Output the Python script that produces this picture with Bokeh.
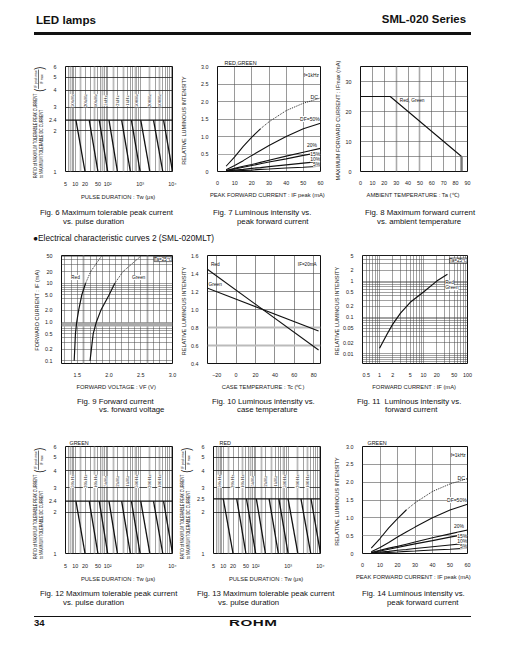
import math
from bokeh.plotting import figure
from bokeh.models import FixedTicker, Grid, Label, LabelSet, ColumnDataSource, Span, Div
from bokeh.layouts import column, row
from bokeh.embed import file_html
from bokeh.resources import INLINE

FONT = "Liberation Sans"
INK = "#111111"

# ---------------- data ----------------
# Fig 6 / 12 / 13 : maximum tolerable peak current vs pulse duration
pulse_freqs = ["50kHz", "20kHz", "10kHz", "5kHz", "2kHz", "1kHz", "500Hz", "200Hz", "100Hz"]
pulse_x_ticks = [5, 10, 20, 50, 100, 1000, 10000]
pulse_x_labels = ["5", "10", "20", "50", "10²", "10³", "10⁴"]
fig6_y_ticks = [1, 2, 2.4, 3, 4, 5, 6]
fig6_y_labels = ["1", "2", "2.4", "3", "4", "5", "6"]
fig6_ratio_limit = 2.4
fig6_tw_top = [10.5, 27, 55, 110, 270, 540, 1050, 2600, 5300]
fig6_tw_bottom = [20, 50, 100, 200, 500, 1000, 2000, 5000, 10000]
fig12_ratio_limit = 2.4
fig12_tw_top = [10.5, 27, 55, 110, 270, 540, 1050, 2600, 5300]
fig12_tw_bottom = [20, 50, 100, 200, 500, 1000, 2000, 5000, 10000]
fig13_y_ticks = [1, 2, 2.5, 3, 4, 5, 6]
fig13_y_labels = ["1", "2", "2.5", "3", "4", "5", "6"]
fig13_ratio_limit = 2.5
fig13_tw_top = [10, 26, 52, 105, 260, 520, 1000, 2500, 5100]
fig13_tw_bottom = [20, 50, 100, 200, 500, 1000, 2000, 5000, 10000]

# Fig 7 / 14 : relative luminous intensity vs peak forward current (f = 1 kHz)
lum_if_peak = [5, 10, 15, 20, 25, 30, 40, 50, 60]
fig7_dc = [0.15, 0.42, 0.72, 0.98, 1.22, 1.42, 1.74, 1.95, 2.10]
fig7_df50 = [0.05, 0.17, 0.31, 0.46, 0.60, 0.74, 1.00, 1.22, 1.38]
fig7_df20 = [0.03, 0.09, 0.15, 0.20, 0.26, 0.32, 0.44, 0.55, 0.66]
fig7_df15 = [0.02, 0.07, 0.12, 0.17, 0.22, 0.27, 0.36, 0.46, 0.55]
fig7_df10 = [0.01, 0.04, 0.06, 0.09, 0.11, 0.14, 0.19, 0.24, 0.29]
fig7_df5 = [0.00, 0.02, 0.03, 0.04, 0.06, 0.07, 0.10, 0.12, 0.15]
fig14_dc = [0.15, 0.42, 0.72, 0.98, 1.22, 1.42, 1.74, 1.95, 2.10]
fig14_df50 = [0.05, 0.17, 0.31, 0.46, 0.60, 0.74, 1.00, 1.22, 1.38]
fig14_df20 = [0.03, 0.09, 0.15, 0.20, 0.26, 0.32, 0.44, 0.55, 0.66]
fig14_df15 = [0.02, 0.07, 0.12, 0.17, 0.22, 0.27, 0.36, 0.46, 0.55]
fig14_df10 = [0.01, 0.04, 0.06, 0.09, 0.11, 0.14, 0.19, 0.24, 0.29]
fig14_df5 = [0.00, 0.02, 0.03, 0.04, 0.06, 0.07, 0.10, 0.12, 0.15]
lum_x_ticks = [0, 10, 20, 30, 40, 50, 60]
lum_y_ticks = [0, 0.5, 1.0, 1.5, 2.0, 2.5, 3.0]
lum_y_labels = ["0", "0.5", "1.0", "1.5", "2.0", "2.5", "3.0"]

# Fig 8 : maximum forward current vs ambient temperature
fig8_temp = [0, 25, 85]
fig8_imax = [25, 25, 5]
fig8_cut_temp = [85, 85]
fig8_cut_imax = [5, 0]

# Fig 9 : forward current vs forward voltage
fig9_if = [0.1, 0.5, 1.0, 2.0, 5.0, 10, 20, 50]
fig9_red_vf = [1.45, 1.47, 1.49, 1.52, 1.57, 1.63, 1.71, 1.88]
fig9_green_vf = [1.70, 1.75, 1.80, 1.87, 2.00, 2.09, 2.22, 2.50]
fig9_y_ticks = [0.1, 0.2, 0.5, 1.0, 2.0, 5.0, 10, 20, 50]
fig9_y_labels = ["0.1", "0.2", "0.5", "1.0", "2.0", "5.0", "10", "20", "50"]
fig9_x_ticks = [1.5, 2.0, 2.5, 3.0]
fig9_x_labels = ["1.5", "2.0", "2.5", "3.0"]

# Fig 10 : luminous intensity vs case temperature (IF = 20 mA)
fig10_tc = [-30, 85]
fig10_red = [1.45, 0.55]
fig10_green = [1.24, 0.76]
fig10_x_ticks = [-20, 0, 20, 40, 60, 80]
fig10_x_labels = ["−20", "0", "20", "40", "60", "80"]
fig10_y_ticks = [0.4, 0.6, 0.8, 1.0, 1.2, 1.4, 1.6]
fig10_y_labels = ["0.4", "0.6", "0.8", "1.0", "1.2", "1.4", "1.6"]

# Fig 11 : luminous intensity vs forward current
fig11_if = [1, 1.5, 2, 3, 5, 10, 20, 35]
fig11_rel = [0.014, 0.035, 0.065, 0.13, 0.26, 0.5, 1.0, 1.55]
fig11_x_ticks = [0.5, 1, 2, 5, 10, 20, 50, 100]
fig11_x_labels = ["0.5", "1", "2", "5", "10", "20", "50", "100"]
fig11_y_ticks = [0.01, 0.02, 0.05, 0.1, 0.2, 0.5, 1, 2, 5]
fig11_y_labels = ["0.01", "0.02", "0.05", "0.1", "0.2", "0.5", "1", "2", "5"]

# ---------------- layout geometry (page pixels) ----------------
ROW = [dict(h=158, bt=22, bb=24), dict(h=144, bt=7, bb=24), dict(h=168, bt=30, bb=25)]
FF = "font-family:'Liberation Sans',Arial,sans-serif;color:#111;"


def make(w, bl, br, ri, xr, yr, xtype="linear", ytype="linear", ylab_standoff=4, title=None, title_offset=0):
    r = ROW[ri]
    kw = {}
    if title:
        kw["title"] = title
    p = figure(width=w, height=r["h"], x_range=xr, y_range=yr,
               x_axis_type=xtype, y_axis_type=ytype, output_backend="svg",
               toolbar_location=None, tools="",
               min_border_left=bl, min_border_right=br,
               min_border_top=r["bt"], min_border_bottom=r["bb"], **kw)
    p.outline_line_color = INK
    p.outline_line_width = 1
    p.xgrid.visible = False
    p.ygrid.visible = False
    if title:
        p.title.text_font = FONT
        p.title.text_font_size = "5.4px"
        p.title.text_font_style = "normal"
        p.title.text_color = INK
        p.title.align = "left"
        p.title.offset = title_offset
        p.title.standoff = 1
    for ax in (p.xaxis[0], p.yaxis[0]):
        ax.axis_line_color = None
        ax.major_tick_line_color = None
        ax.minor_tick_line_color = None
        ax.major_label_text_font = FONT
        ax.major_label_text_font_size = "5.4px"
        ax.major_label_text_color = "#222222"
        ax.major_label_standoff = 3
        ax.axis_label_text_font = FONT
        ax.axis_label_text_font_style = "normal"
        ax.axis_label_text_color = "#222222"
        ax.axis_label_standoff = 4
    p.xaxis[0].axis_label_text_font_size = "5.8px"
    p.yaxis[0].axis_label_text_font_size = "5.6px"
    p.yaxis[0].axis_label_standoff = int(ylab_standoff)
    return p


def ticks(axis, vals, labels):
    axis.ticker = FixedTicker(ticks=vals)
    axis.major_label_overrides = {v: l for v, l in zip(vals, labels)}


def grid(p, dim, vals, color="#555555", width=0.6):
    p.add_layout(Grid(dimension=dim, ticker=FixedTicker(ticks=vals),
                      grid_line_color=color, grid_line_width=width))


def dlabel(p, x, y, text, size=5.0, align="left", baseline="middle", box=False, bg=False):
    kw = {}
    if box:
        kw = dict(border_line_color=INK, border_line_width=0.6, background_fill_color="white")
    elif bg:
        kw = dict(background_fill_color="white")
    p.add_layout(Label(x=x, y=y, text=text, text_font=FONT, text_font_size=f"{size}px",
                       text_align=align, text_baseline=baseline, text_color=INK, **kw))


def log_grid_vals(lo_exp, hi_exp, start, stop):
    out = []
    for e in range(lo_exp, hi_exp + 1):
        for m in range(1, 10):
            v = m * 10 ** e
            if start - 1e-12 <= v <= stop + 1e-12:
                out.append(round(v, 6))
    return out


def ratio_title_div(width, height, left, top):
    html = (
        f'<div style="position:relative;width:{width}px;height:{height}px;{FF}">'
        f'<div style="position:absolute;left:{left}px;top:{top}px;display:flex;align-items:center;'
        'white-space:nowrap;font-size:8px;transform-origin:0 0;transform:rotate(-90deg) scale(0.45,0.6);">'
        '<div style="line-height:10px;"><div>RATIO of MAXIMUM TOLERABLE PEAK CURRENT</div>'
        '<div>to MAXIMUM TOLERABLE DC CURRENT</div></div>'
        '<div style="font-size:20px;line-height:20px;margin-left:4px;">(</div>'
        '<div style="font-size:7px;text-align:center;">'
        '<div style="line-height:9px;border-bottom:1px solid #111;padding:0 2px;">IF peak max</div>'
        '<div style="line-height:10px;">IF max</div></div>'
        '<div style="font-size:20px;line-height:20px;">)</div>'
        '</div></div>')
    return Div(text=html, width=width, height=height, margin=(0, 0, 0, 0))


def pulse_chart(w, bl, br, ri, y_ticks, y_labels, limit, tw_top, tw_bottom, title=None, title_offset=0):
    p = make(w, bl, br, ri, (5, 10000), (1, 6), xtype="log", ytype="log",
             title=title, title_offset=title_offset)
    ticks(p.xaxis[0], pulse_x_ticks, pulse_x_labels)
    ticks(p.yaxis[0], y_ticks, y_labels)
    p.xaxis[0].axis_label = "PULSE  DURATION : Tw (μs)"
    grid(p, 0, log_grid_vals(0, 4, 5, 10000), "#444444", 0.5)
    grid(p, 0, [7, 15, 40, 70, 150, 300, 700, 2000, 4000], "#bbbbbb", 1.8)
    grid(p, 1, [2, 3, 4, 5], "#222222", 0.8)
    p.add_layout(Span(location=limit, dimension="width", line_color=INK, line_width=1.3))
    n = len(tw_top)
    p.segment(x0=tw_top, y0=[limit] * n, x1=tw_bottom, y1=[1] * n, line_color=INK, line_width=1.3)
    src = ColumnDataSource(dict(x=[t * 0.76 for t in tw_top], y=[3.35] * n, text=pulse_freqs))
    p.add_layout(LabelSet(x="x", y="y", text="text", source=src, angle=math.pi / 2,
                          text_font=FONT, text_font_size="5px", text_align="center",
                          text_baseline="middle", text_color=INK,
                          background_fill_color="white"))
    return p


def lum_chart(w, bl, br, ri, dc, df50, df20, df15, df10, df5, title, title_offset, ystand):
    p = make(w, bl, br, ri, (0, 60), (0, 3.0), ylab_standoff=ystand, title=title, title_offset=title_offset)
    ticks(p.xaxis[0], lum_x_ticks, [str(v) for v in lum_x_ticks])
    ticks(p.yaxis[0], lum_y_ticks, lum_y_labels)
    p.xaxis[0].axis_label = "PEAK  FORWARD  CURRENT : IF peak (mA)"
    p.yaxis[0].axis_label = "RELATIVE  LUMINOUS  INTENSITY"
    grid(p, 0, [10, 20, 30, 40, 50], "#555555", 0.6)
    grid(p, 1, [1.0, 1.5, 2.0, 2.5], "#555555", 0.6)
    grid(p, 1, [0.5], "#aaaaaa", 1.2)
    p.line(lum_if_peak[:5], dc[:5], line_color=INK, line_width=1.1)
    p.line(lum_if_peak[4:], dc[4:], line_color=INK, line_width=0.9, line_dash="1 1")
    for ys in (df50, df20, df15, df10, df5):
        p.line(lum_if_peak, ys, line_color=INK, line_width=1.1)
    dlabel(p, 59, 2.75, "f=1kHz", 4.8, align="right")
    dlabel(p, 58.5, 2.13, "DC", 5.2, align="right")
    dlabel(p, 59.5, 1.5, "DF=50%", 5.0, align="right", bg=True)
    dlabel(p, 58, 0.77, "20%", 5.0, align="right")
    dlabel(p, 59.8, 0.5, "15%", 5.0, align="right", bg=True)
    dlabel(p, 59.8, 0.35, "10%", 5.0, align="right", bg=True)
    dlabel(p, 59.8, 0.22, "5%", 5.0, align="right", bg=True)
    return p


def text_div(height, items, extra=""):
    parts = [f'<div style="position:relative;width:505px;height:{height}px;{FF}">']
    for x, top, txt, size in items:
        lh = round(size * 1.16, 1)
        parts.append(f'<div style="position:absolute;left:{x}px;top:{top}px;font-size:{size}px;'
                     f'line-height:{lh}px;white-space:nowrap;">{txt}</div>')
    parts.append(extra)
    parts.append('</div>')
    return Div(text="".join(parts), width=505, height=height, margin=(0, 0, 0, 0))


# ---------------- row 1 ----------------
d6 = ratio_title_div(46, ROW[0]["h"], 33, 134)
f6 = pulse_chart(132, 15, 6, 0, fig6_y_ticks, fig6_y_labels, fig6_ratio_limit, fig6_tw_top, fig6_tw_bottom)
f7 = lum_chart(153, 28, 11, 0, fig7_dc, fig7_df50, fig7_df20, fig7_df15, fig7_df10, fig7_df5,
               "RED,GREEN", 7, 11)

f8 = make(174, 22, 38, 0, (0, 90), (0, 35), ylab_standoff=2)
ticks(f8.xaxis[0], list(range(0, 100, 10)), [str(v) for v in range(0, 100, 10)])
ticks(f8.yaxis[0], [0, 10, 20, 30], ["0", "10", "20", "30"])
f8.xaxis[0].axis_label = "AMBIENT  TEMPERATURE : Ta (℃)"
f8.yaxis[0].axis_label = "MAXIMUM  FORWARD  CURRENT : IFmax (mA)"
grid(f8, 0, [10, 20, 40, 60, 70, 80], "#555555", 0.6)
grid(f8, 0, [30, 50], "#aaaaaa", 1.6)
grid(f8, 1, [5, 10, 15, 20, 25, 30], "#555555", 0.6)
f8.line(fig8_temp, fig8_imax, line_color=INK, line_width=1.1)
f8.line(fig8_cut_temp, fig8_cut_imax, line_color="#777777", line_width=2.4)
dlabel(f8, 33, 23.6, "Red, Green", 4.8)

# ---------------- row 2 ----------------
f9 = make(178, 61, 6, 1, (1.25, 3.0), (0.085, 52), ytype="log", ylab_standoff=2)
ticks(f9.xaxis[0], fig9_x_ticks, fig9_x_labels)
ticks(f9.yaxis[0], fig9_y_ticks, fig9_y_labels)
f9.xaxis[0].axis_label = "FORWARD  VOLTAGE : VF (V)"
f9.yaxis[0].axis_label = "FORWARD  CURRENT : IF (mA)"
grid(f9, 0, [round(1.3 + 0.1 * i, 2) for i in range(17)], "#444444", 0.5)
grid(f9, 0, [1.6, 2.6], "#aaaaaa", 1.8)
grid(f9, 1, log_grid_vals(-1, 1, 0.1, 50), "#444444", 0.5)
grid(f9, 1, [0.8, 0.9], "#aaaaaa", 1.8)
f9.line(fig9_red_vf[:6], fig9_if[:6], line_color=INK, line_width=1.2)
f9.line(fig9_red_vf[5:], fig9_if[5:], line_color=INK, line_width=0.9, line_dash="1 1")
f9.line(fig9_green_vf[:6], fig9_if[:6], line_color=INK, line_width=1.2)
f9.line(fig9_green_vf[5:], fig9_if[5:], line_color=INK, line_width=0.9, line_dash="1 1")
dlabel(f9, 1.40, 14, "Red", 4.8, bg=True)
dlabel(f9, 2.36, 14, "Green", 4.8, bg=True)
dlabel(f9, 2.99, 42, "Ta=25℃", 4.6, align="right", box=True)

f10 = make(153, 28, 11, 1, (-29.5, 87), (0.4, 1.6), ylab_standoff=1)
ticks(f10.xaxis[0], fig10_x_ticks, fig10_x_labels)
ticks(f10.yaxis[0], fig10_y_ticks, fig10_y_labels)
f10.xaxis[0].axis_label = "CASE  TEMPERATURE : Tc (℃)"
f10.yaxis[0].axis_label = "RELATIVE  LUMINOUS  INTENSITY"
grid(f10, 0, [-20, 0, 20, 40, 60, 80], "#444444", 0.6)
grid(f10, 1, [1.0, 1.2, 1.4], "#444444", 0.6)
grid(f10, 1, [0.6, 0.8], "#bbbbbb", 2.0)
f10.line(fig10_tc, fig10_red, line_color=INK, line_width=1.1)
f10.line(fig10_tc, fig10_green, line_color=INK, line_width=1.1)
dlabel(f10, -26, 1.5, "Red", 4.8)
dlabel(f10, -28.5, 1.28, "Green", 4.8)
dlabel(f10, 83, 1.5, "IF=20mA", 4.6, align="right")

f11 = make(174, 22, 38, 1, (0.41, 100), (0.0053, 5.1), xtype="log", ytype="log", ylab_standoff=0)
ticks(f11.xaxis[0], fig11_x_ticks, fig11_x_labels)
ticks(f11.yaxis[0], fig11_y_ticks, fig11_y_labels)
f11.xaxis[0].axis_label = "FORWARD  CURRENT : IF (mA)"
f11.yaxis[0].axis_label = "RELATIVE  LUMINOUS  INTENSITY"
grid(f11, 0, log_grid_vals(-1, 2, 0.5, 100), "#444444", 0.5)
grid(f11, 1, log_grid_vals(-3, 0, 0.006, 5), "#444444", 0.5)
f11.line(fig11_if, fig11_rel, line_color=INK, line_width=1.2)
dlabel(f11, 31, 0.9, "Red", 4.8, bg=True)
dlabel(f11, 31, 0.66, "Green", 4.8, bg=True)
dlabel(f11, 98, 3.7, "Ta=25℃", 4.6, align="right", box=True)

# ---------------- row 3 ----------------
d12 = ratio_title_div(46, ROW[2]["h"], 33, 143)
f12 = pulse_chart(132, 15, 6, 2, fig6_y_ticks, fig6_y_labels, fig12_ratio_limit, fig12_tw_top, fig12_tw_bottom,
                  "GREEN", 4)
d13 = ratio_title_div(16, ROW[2]["h"], 2, 143)
f13 = pulse_chart(137, 12, 11, 2, fig13_y_ticks, fig13_y_labels, fig13_ratio_limit, fig13_tw_top, fig13_tw_bottom,
                  "RED", 6)
f14 = lum_chart(174, 22, 38, 2, fig14_dc, fig14_df50, fig14_df20, fig14_df15, fig14_df10, fig14_df5,
                "GREEN", 5, 3)

# ---------------- page text ----------------
header = Div(text=(
    f'<div style="position:relative;width:505px;height:44px;{FF}">'
    '<div style="position:absolute;left:36px;top:13px;font-size:11.6px;line-height:13px;font-weight:bold;white-space:nowrap;">LED lamps</div>'
    '<div style="position:absolute;right:39px;top:13px;font-size:11.4px;line-height:13px;font-weight:bold;white-space:nowrap;">SML-020 Series</div>'
    '<div style="position:absolute;left:34px;top:32px;width:437px;height:3px;background:#111;"></div>'
    '</div>'), width=505, height=44, margin=(0, 0, 0, 0))

CAP = 7.8
cap1 = text_div(46, [
    (40, 5.5, "Fig. 6 Maximum tolerable peak current", CAP), (63, 14.5, "vs. pulse duration", CAP),
    (213, 5.5, "Fig. 7 Luminous intensity vs.", CAP), (237, 14.5, "peak forward current", CAP),
    (365, 5.5, "Fig. 8 Maximum forward current", CAP), (377, 14.5, "vs. ambient temperature", CAP),
    (33, 32, "●Electrical characteristic curves 2 (SML-020MLT)", 8.3),
])
cap2 = text_div(24, [
    (77, 4.5, "Fig. 9 Forward current", CAP), (99, 13, "vs. forward voltage", CAP),
    (212, 4.5, "Fig. 10 Luminous intensity vs.", CAP), (237, 13, "case temperature", CAP),
    (357, 4.5, "Fig. 11&nbsp; Luminous intensity vs.", CAP), (385, 13, "forward current", CAP),
])
footer_html = (
    '<div style="position:absolute;left:34px;top:32px;width:437px;height:1.3px;background:#111;"></div>'
    '<div style="position:absolute;left:34px;top:33px;font-size:9.5px;line-height:11px;font-weight:bold;">34</div>'
    '<div style="position:absolute;left:229px;top:33px;font-size:9.5px;line-height:11px;font-weight:bold;'
    'letter-spacing:0.3px;transform:scaleX(1.6);transform-origin:left top;">ROHM</div>')
cap3 = text_div(56, [
    (40, 4.5, "Fig. 12 Maximum tolerable peak current", CAP), (63, 13.5, "vs. pulse duration", CAP),
    (197, 4.5, "Fig. 13 Maximum tolerable peak current", CAP), (218, 13.5, "vs. pulse duration", CAP),
    (362, 4.5, "Fig. 14 Luminous intensity vs.", CAP), (387, 13.5, "peak forward current", CAP),
], extra=footer_html)

layout = column(header,
                row(d6, f6, f7, f8, spacing=0),
                cap1,
                row(f9, f10, f11, spacing=0),
                cap2,
                row(d12, f12, d13, f13, f14, spacing=0),
                cap3, spacing=0)

open("out.html", "w").write(file_html(layout, INLINE))
